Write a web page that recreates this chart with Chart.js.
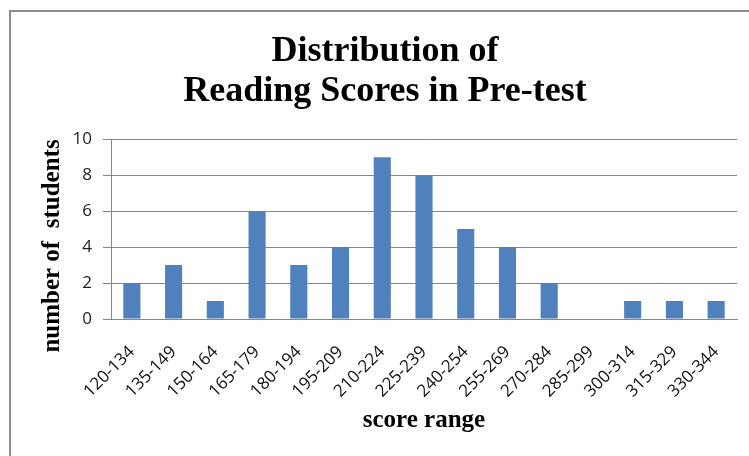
<!DOCTYPE html>
<html>
<head>
<meta charset="utf-8">
<script src="https://cdn.jsdelivr.net/npm/chart.js@4/dist/chart.umd.min.js"></script>
<style>
  html, body { margin: 0; padding: 0; background: #fff; overflow: hidden; }
  #wrap { position: relative; width: 749px; height: 456px; }
  #frame { position: absolute; left: 9px; top: 10px; width: 800px; height: 500px;
           border-top: 2px solid #8c8c8c; border-left: 2px solid #8c8c8c; pointer-events: none; }
  canvas { position: absolute; left: 0; top: 0; }
</style>
</head>
<body>
<div id="wrap">
  <canvas id="c" width="749" height="456"></canvas>
  <div id="frame"></div>
</div>
<script>
const categories = ['120-134','135-149','150-164','165-179','180-194','195-209','210-224','225-239','240-254','255-269','270-284','285-299','300-314','315-329','330-344'];
const students = [2, 3, 1, 6, 3, 4, 9, 8, 5, 4, 2, 0, 1, 1, 1];
const yTicks = [0, 2, 4, 6, 8, 10];
const titleLines = ['Distribution of', 'Reading Scores in Pre-test'];
const xTitle = 'score range';
const yTitle = 'number of  students';

const yTitlePlugin = {
  id: 'yTitle',
  afterDraw(chart) {
    const ctx = chart.ctx;
    ctx.save();
    ctx.translate(53, 246);
    ctx.rotate(-Math.PI / 2);
    ctx.font = 'bold 25px "Liberation Serif"';
    ctx.fillStyle = '#000';
    ctx.textAlign = 'center';
    ctx.textBaseline = 'middle';
    ctx.fillText(yTitle, 0, 0);
    ctx.restore();
  }
};

new Chart(document.getElementById('c'), {
  type: 'bar',
  data: {
    labels: categories,
    datasets: [{
      data: students,
      backgroundColor: '#4F81BD',
      borderWidth: 0,
      categoryPercentage: 1,
      barPercentage: 0.41
    }]
  },
  options: {
    responsive: false,
    animation: false,
    devicePixelRatio: 1,
    layout: { padding: { left: 33, right: 12, top: 0, bottom: 20 } },
    plugins: {
      legend: { display: false },
      tooltip: { enabled: false },
      title: {
        display: true,
        text: titleLines,
        color: '#000',
        font: { family: 'Liberation Serif', size: 36, weight: 'bold', lineHeight: 1.1 },
        padding: { top: 32, bottom: 28 }
      }
    },
    scales: {
      x: {
        afterFit(scale) { scale.height = 117; },
        grid: { display: false },
        border: { display: true, color: '#868686', width: 1 },
        ticks: {
          color: '#111',
          font: { family: 'Open Sans', size: 17 },
          minRotation: 45, maxRotation: 45,
          padding: 15,
          autoSkip: false
        },
        title: {
          display: true,
          text: xTitle,
          color: '#000',
          font: { family: 'Liberation Serif', size: 25, weight: 'bold' },
          padding: { top: 0, bottom: 0 }
        }
      },
      y: {
        min: 0, max: 10,
        afterBuildTicks(scale) { scale.ticks = yTicks.map(v => ({ value: v })); },
        afterFit(scale) { scale.width = 78; },
        grid: { color: '#868686', tickLength: 8, tickColor: '#868686' },
        border: { display: true, color: '#868686', width: 1 },
        ticks: {
          color: '#222',
          font: { family: 'Open Sans', size: 17 },
          padding: 11
        }
      }
    }
  },
  plugins: [yTitlePlugin]
});
</script>
</body>
</html>
